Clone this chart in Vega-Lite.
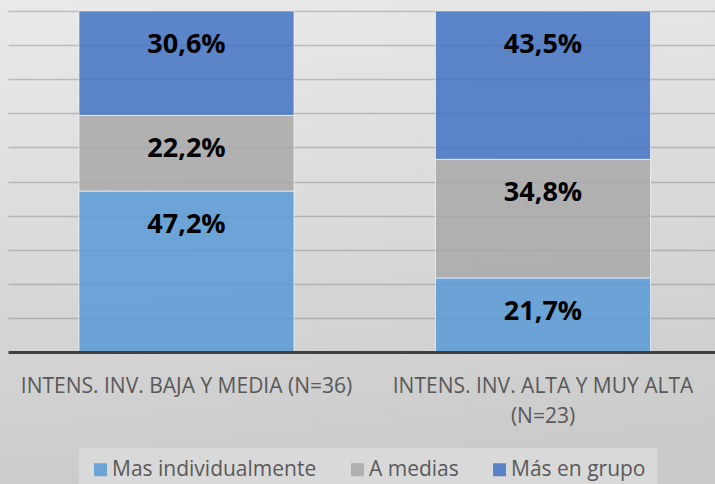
{
  "$schema": "https://vega.github.io/schema/vega-lite/v6.json",
  "width": 715,
  "height": 484,
  "padding": 0,
  "autosize": {"type": "none"},
  "background": "#dcdcdc",
  "config": {
    "locale": {"number": {"decimal": ",", "thousands": ".", "grouping": [3], "currency": ["", " €"]}},
    "view": {
      "stroke": null,
      "fill": {"gradient": "linear", "x1": 0, "y1": 0, "x2": 0.15, "y2": 1,
        "stops": [{"offset": 0, "color": "#eaeaea"}, {"offset": 1, "color": "#cbcbcb"}]}
    },
    "font": "Open Sans"
  },
  "data": {
    "values": [
      {"cat": "INTENS. INV. BAJA Y MEDIA (N=36)", "serie": "Mas individualmente", "orden": 1, "valor": 0.472},
      {"cat": "INTENS. INV. BAJA Y MEDIA (N=36)", "serie": "A medias", "orden": 2, "valor": 0.222},
      {"cat": "INTENS. INV. BAJA Y MEDIA (N=36)", "serie": "Más en grupo", "orden": 3, "valor": 0.306},
      {"cat": "INTENS. INV. ALTA Y MUY ALTA (N=23)", "serie": "Mas individualmente", "orden": 1, "valor": 0.217},
      {"cat": "INTENS. INV. ALTA Y MUY ALTA (N=23)", "serie": "A medias", "orden": 2, "valor": 0.348},
      {"cat": "INTENS. INV. ALTA Y MUY ALTA (N=23)", "serie": "Más en grupo", "orden": 3, "valor": 0.435}
    ]
  },
  "transform": [
    {"stack": "valor", "groupby": ["cat"], "sort": [{"field": "orden", "order": "ascending"}], "as": ["y0", "y1"]}
  ],
  "encoding": {
    "x": {
      "field": "cat",
      "type": "nominal",
      "sort": ["INTENS. INV. BAJA Y MEDIA (N=36)", "INTENS. INV. ALTA Y MUY ALTA (N=23)"],
      "scale": {"range": [8, 715], "paddingInner": 0.397, "paddingOuter": 0.19, "align": 0.524},
      "axis": {
        "title": null,
        "offset": -132,
        "labelAngle": 0,
        "labelFont": "Open Sans",
        "labelFontSize": 21,
        "labelColor": "#595959",
        "labelPadding": 23,
        "labelLineHeight": 30,
        "labelLimit": 0,
        "labelExpr": "datum.value == 'INTENS. INV. ALTA Y MUY ALTA (N=23)' ? ['INTENS. INV. ALTA Y MUY ALTA', '(N=23)'] : datum.label",
        "ticks": false,
        "domainColor": "#404040",
        "domainWidth": 3,
        "zindex": 2
      }
    },
    "y": {
      "field": "y1",
      "type": "quantitative",
      "scale": {"domain": [0, 1], "nice": false, "range": [352, 11]},
      "axis": {
        "title": null,
        "labels": false,
        "ticks": false,
        "domain": false,
        "grid": true,
        "values": [0.1, 0.2, 0.3, 0.4, 0.5, 0.6, 0.7, 0.8, 0.9, 1],
        "gridColor": "#6e6e6e",
        "gridOpacity": 0.35,
        "gridWidth": 1.5
      }
    }
  },
  "layer": [
    {
      "mark": {"type": "bar", "fillOpacity": 0.86, "stroke": "#ffffff", "strokeWidth": 1, "strokeOpacity": 0.6},
      "encoding": {
        "y2": {"field": "y0"},
        "color": {
          "field": "serie",
          "type": "nominal",
          "sort": ["Mas individualmente", "A medias", "Más en grupo"],
          "scale": {
            "domain": ["Mas individualmente", "A medias", "Más en grupo"],
            "range": ["#5a9bd6", "#a9a9a9", "#4473c4"]
          },
          "legend": {
            "title": null,
            "orient": "none",
            "direction": "horizontal",
            "legendX": 79,
            "legendY": 448,
            "fillColor": "#d9d9d9",
            "padding": 11,
            "symbolType": "square",
            "symbolSize": 169,
            "symbolStrokeWidth": 0,
            "symbolOpacity": 0.86,
            "labelFont": "Open Sans",
            "labelFontSize": 21,
            "labelColor": "#595959",
            "labelOffset": 1,
            "columnPadding": 30,
            "labelLimit": 0
          }
        }
      }
    },
    {
      "mark": {"type": "text", "baseline": "middle", "align": "center", "dy": 34, "font": "Open Sans", "fontWeight": "bold", "fontSize": 27, "color": "#000000"},
      "encoding": {
        "text": {"field": "valor", "type": "quantitative", "format": ".1%"}
      }
    }
  ]
}
